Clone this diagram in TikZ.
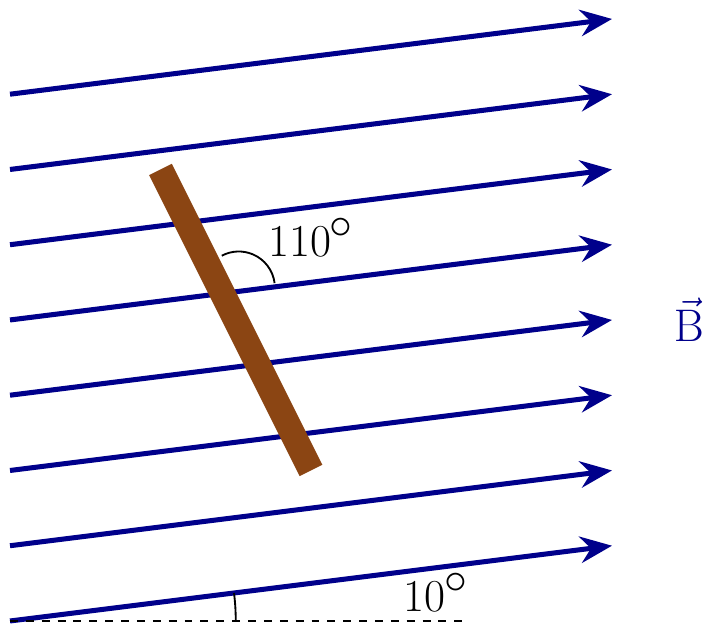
\documentclass[tikz,border=0pt]{standalone}
\usetikzlibrary{arrows.meta}
\definecolor{fieldblue}{HTML}{00008B}
\definecolor{rodbrown}{HTML}{8B4513}
\newcommand{\degsym}{\kern-0.03em\raisebox{0.40em}{$\circ$}}
\begin{document}
\begin{tikzpicture}[
  fieldline/.style={fieldblue, line width=1.9pt, -{Stealth[length=12pt,width=10pt,inset=4pt]}},
  anglearc/.style={black, line width=0.7pt},
  refline/.style={black, line width=0.6pt, dashed},
  rodstyle/.style={rodbrown, line width=9.6pt},
  lbl/.style={font=\LARGE, inner sep=0pt, anchor=base}
]
\useasboundingbox (-0.133,-0.066) rectangle (9.289,8.252);
\foreach \i in {0,...,7} {
  \coordinate (s\i) at (0,\i);
  \coordinate (e\i) at (8,\i+1);
  \draw[fieldline] (s\i) -- (e\i);
}
\coordinate (d) at (6,0);
\draw[refline] (s0) -- (d);
\draw[anglearc] (3,0) arc[start angle=0, end angle=7.125, radius=3];
\node[lbl] (a10) at (5.65,0.124) {10\degsym};
\coordinate (c) at (3.04,4.43);
\draw[anglearc] (c) ++(7.125:0.48) arc[start angle=7.125, end angle=118, radius=0.48];
\coordinate (r1) at (2,6);
\coordinate (r2) at (4,2);
\draw[rodstyle] (r1) -- (r2);
\node[lbl] (a110) at (3.99,4.84) {110\degsym};
\node[lbl, text=fieldblue] (B) at (9.02,3.71) {$\vec{\mathrm{B}}$};
\end{tikzpicture}
\end{document}
